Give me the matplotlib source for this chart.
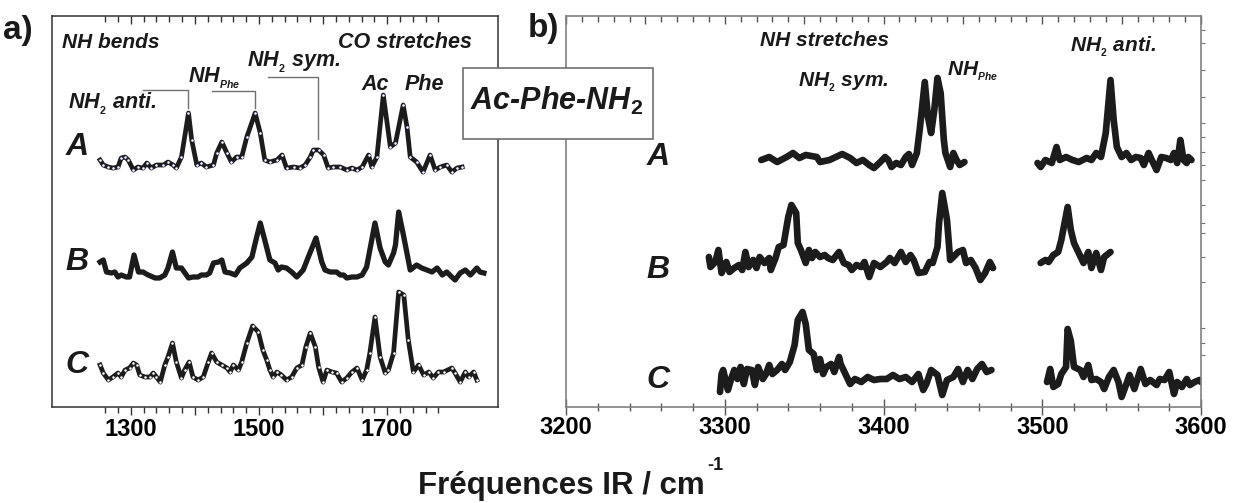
import matplotlib
matplotlib.use("Agg")
import matplotlib.pyplot as plt
from matplotlib.patches import Rectangle
from matplotlib.ticker import FixedLocator, MultipleLocator, NullFormatter

# fonts: narrow bold like the original figure (falls back to Liberation Sans)
FONT = ['Liberation Sans Narrow', 'Liberation Sans', 'DejaVu Sans']
plt.rcParams['font.family'] = FONT
plt.rcParams['mathtext.fontset'] = 'custom'
plt.rcParams['mathtext.rm'] = 'Liberation Sans:bold'
plt.rcParams['mathtext.it'] = 'Liberation Sans:italic:bold'
plt.rcParams['mathtext.bf'] = 'Liberation Sans:bold'
plt.rcParams['mathtext.default'] = 'it'

# ---- panel a) : 1200-1900 cm-1, spectra A, B, C (arbitrary intensity units)
a_wn_A = [1252, 1257, 1265, 1272, 1280, 1285, 1291, 1296, 1304, 1311,
          1319, 1325, 1332, 1340, 1351, 1358, 1366, 1371, 1379, 1390,
          1395, 1403, 1410, 1418, 1429, 1434, 1442, 1450, 1457, 1465,
          1473, 1481, 1494, 1502, 1509, 1517, 1528, 1536, 1543, 1554,
          1564, 1572, 1580, 1585, 1593, 1601, 1608, 1616, 1627, 1637,
          1645, 1653, 1661, 1671, 1676, 1684, 1694, 1705, 1713, 1725,
          1731, 1736, 1746, 1756, 1767, 1775, 1783, 1793, 1801, 1809, 1817]
a_int_A = [247, 242, 240, 239, 240, 249, 250, 247, 237, 240,
           239, 244, 239, 242, 242, 245, 242, 239, 250, 294,
           267, 242, 244, 240, 242, 254, 265, 254, 245, 250,
           250, 270, 294, 274, 247, 245, 247, 252, 239, 240,
           239, 242, 250, 257, 257, 252, 239, 240, 240, 237,
           239, 237, 240, 252, 240, 250, 312, 260, 264, 302,
           280, 250, 245, 235, 252, 237, 240, 242, 235, 239, 240]

a_wn_B = [1252, 1257, 1262, 1270, 1275, 1280, 1285, 1293, 1298, 1305,
          1312, 1319, 1327, 1338, 1345, 1353, 1358, 1365, 1371, 1379,
          1390, 1397, 1405, 1410, 1418, 1423, 1429, 1437, 1442, 1447,
          1455, 1463, 1470, 1481, 1489, 1496, 1502, 1509, 1517, 1525,
          1530, 1535, 1543, 1551, 1559, 1569, 1577, 1589, 1598, 1603,
          1611, 1621, 1627, 1632, 1637, 1645, 1653, 1661, 1668, 1673,
          1681, 1689, 1697, 1702, 1710, 1713, 1718, 1726, 1736, 1746,
          1754, 1762, 1770, 1778, 1786, 1793, 1801, 1806, 1814, 1822,
          1830, 1840, 1845, 1851]
a_int_B = [145, 147, 135, 134, 135, 130, 132, 130, 130, 152,
           135, 135, 132, 129, 129, 132, 139, 155, 139, 139,
           129, 130, 130, 132, 132, 134, 144, 145, 147, 135,
           134, 132, 139, 144, 150, 169, 184, 167, 147, 144,
           137, 140, 139, 135, 130, 137, 150, 169, 145, 137,
           135, 135, 132, 132, 129, 130, 130, 132, 140, 157,
           184, 159, 145, 142, 154, 162, 195, 170, 137, 142,
           139, 137, 135, 139, 132, 135, 130, 127, 134, 137,
           132, 139, 135, 134]

a_wn_C = [1252, 1257, 1265, 1272, 1280, 1285, 1291, 1298, 1304, 1309,
          1314, 1322, 1330, 1335, 1340, 1346, 1353, 1358, 1365, 1371,
          1379, 1384, 1391, 1397, 1405, 1413, 1421, 1426, 1434, 1442,
          1450, 1455, 1460, 1468, 1473, 1481, 1490, 1499, 1506, 1512,
          1517, 1522, 1528, 1535, 1543, 1551, 1559, 1567, 1573, 1580,
          1588, 1593, 1600, 1606, 1614, 1621, 1629, 1637, 1645, 1653,
          1661, 1668, 1673, 1681, 1689, 1697, 1702, 1710, 1718, 1726,
          1733, 1741, 1749, 1757, 1765, 1772, 1780, 1788, 1801, 1806,
          1814, 1822, 1827, 1835, 1840]
a_int_C = [42, 34, 27, 30, 34, 30, 37, 39, 44, 42,
           32, 30, 30, 34, 30, 25, 42, 50, 64, 45,
           29, 37, 45, 30, 27, 30, 45, 54, 45, 42,
           39, 35, 42, 37, 45, 64, 81, 75, 57, 47,
           37, 30, 35, 32, 27, 30, 39, 42, 60, 74,
           60, 40, 25, 37, 35, 34, 25, 29, 35, 39,
           27, 37, 54, 90, 50, 34, 37, 54, 115, 112,
           67, 35, 42, 32, 35, 29, 35, 35, 39, 34,
           25, 35, 30, 35, 27]

# ---- panel b) : 3200-3600 cm-1, each spectrum in two windows
b_wn_A1 = [3323, 3328, 3333, 3339, 3343, 3347, 3351, 3358, 3360, 3366,
           3370, 3374, 3379, 3383, 3387, 3391, 3394, 3398, 3401, 3403,
           3405, 3408, 3411, 3414, 3416, 3418, 3421, 3423, 3426, 3428,
           3430, 3432, 3434, 3436, 3438, 3439, 3442, 3444, 3446, 3448, 3451]
b_int_A1 = [247, 250, 245, 250, 254, 249, 252, 250, 245, 247,
            250, 253, 249, 244, 247, 242, 239, 245, 250, 247,
            240, 244, 242, 250, 253, 242, 254, 280, 325, 290,
            274, 297, 329, 314, 267, 254, 240, 254, 247, 242, 245]
b_wn_A2 = [3497, 3499, 3502, 3506, 3509, 3511, 3515, 3519, 3523, 3528,
           3531, 3534, 3537, 3540, 3543, 3545, 3547, 3550, 3553, 3556,
           3559, 3562, 3564, 3567, 3569, 3572, 3575, 3578, 3581, 3583,
           3585, 3587, 3589, 3591, 3592, 3594]
b_int_A2 = [244, 240, 247, 244, 260, 247, 250, 247, 245, 249,
            247, 254, 250, 274, 327, 287, 260, 250, 254, 247,
            250, 249, 242, 254, 247, 237, 250, 249, 247, 254,
            244, 267, 247, 244, 250, 247]

b_wn_B1 = [3290, 3291, 3294, 3296, 3298, 3301, 3303, 3306, 3309, 3311,
           3313, 3315, 3318, 3320, 3322, 3325, 3328, 3329, 3332, 3334,
           3337, 3340, 3342, 3345, 3346, 3348, 3351, 3353, 3355, 3357,
           3360, 3363, 3365, 3368, 3372, 3375, 3378, 3380, 3383, 3386,
           3388, 3391, 3394, 3398, 3402, 3404, 3407, 3411, 3414, 3417,
           3419, 3422, 3426, 3429, 3431, 3434, 3435, 3437, 3440, 3442,
           3444, 3447, 3450, 3452, 3455, 3458, 3461, 3464, 3467, 3469]
b_int_B1 = [150, 140, 145, 157, 134, 145, 135, 139, 142, 137,
            155, 140, 147, 139, 150, 144, 149, 137, 149, 160,
            162, 190, 202, 194, 164, 157, 144, 157, 149, 155,
            150, 152, 149, 147, 155, 144, 142, 137, 142, 140,
            145, 130, 144, 140, 145, 149, 144, 155, 145, 152,
            147, 134, 135, 145, 144, 160, 184, 214, 187, 147,
            150, 155, 157, 144, 147, 139, 127, 134, 145, 139]
b_wn_B2 = [3499, 3502, 3504, 3507, 3510, 3512, 3516, 3518, 3520, 3523,
           3526, 3529, 3531, 3534, 3537, 3539, 3543]
b_int_B2 = [144, 147, 145, 152, 155, 167, 200, 177, 164, 154,
            144, 155, 139, 154, 137, 150, 155]

b_wn_C1 = [3297, 3298, 3299, 3302, 3304, 3306, 3308, 3310, 3312, 3314,
           3317, 3319, 3321, 3324, 3326, 3328, 3330, 3333, 3336, 3338,
           3341, 3344, 3346, 3349, 3351, 3353, 3356, 3358, 3360, 3362,
           3364, 3367, 3369, 3372, 3373, 3376, 3379, 3382, 3386, 3390,
           3394, 3398, 3402, 3406, 3410, 3414, 3418, 3422, 3425, 3427,
           3430, 3434, 3437, 3440, 3444, 3447, 3450, 3453, 3456, 3459,
           3462, 3465, 3468]
b_int_C1 = [15, 33, 37, 17, 28, 37, 28, 40, 23, 38,
            37, 22, 40, 28, 33, 42, 33, 37, 43, 37,
            45, 62, 87, 95, 83, 57, 53, 37, 48, 33,
            40, 43, 35, 50, 43, 33, 23, 28, 25, 30,
            27, 28, 28, 32, 28, 30, 25, 33, 17, 23,
            37, 32, 12, 27, 30, 38, 25, 37, 28, 38,
            43, 35, 37]
b_wn_C2 = [3503, 3505, 3507, 3510, 3512, 3515, 3516, 3518, 3520, 3524,
           3526, 3529, 3531, 3534, 3537, 3539, 3542, 3545, 3548, 3550,
           3553, 3555, 3558, 3562, 3565, 3568, 3572, 3574, 3577, 3580,
           3583, 3585, 3588, 3591, 3593, 3596, 3599, 3600]
b_int_C2 = [25, 38, 20, 23, 33, 40, 78, 66, 40, 37,
            30, 42, 27, 28, 25, 18, 30, 37, 25, 10,
            23, 32, 18, 38, 23, 27, 22, 28, 27, 35,
            13, 25, 20, 28, 22, 25, 27, 25]

a_ticks = [1300, 1400, 1500, 1600, 1700]
a_ticklabels = ['1300', '', '1500', '', '1700']
b_ticks = [3200, 3300, 3400, 3500, 3600]

W, H = 1234, 503
INK = '#1c1c1c'


def fx(x):
    return x / W


def fy(y):
    return 1 - y / H


fig = plt.figure(figsize=(W / 100, H / 100), dpi=100)
ax1 = fig.add_axes([fx(52), fy(407), (498 - 52) / W, (407 - 16) / H])
ax2 = fig.add_axes([fx(566), fy(407), (1201 - 566) / W, (407 - 16) / H])

# panel a spectra
ax1.plot(a_wn_A, a_int_A, color=INK, lw=3.4, marker='o', ms=2.2,
         mfc='white', mec='#30305a', mew=0.4, solid_joinstyle='round')
ax1.plot(a_wn_B, a_int_B, color=INK, lw=3.8, solid_joinstyle='round')
ax1.plot(a_wn_C, a_int_C, color=INK, lw=3.4, marker='o', ms=2.2,
         mfc='white', mec='#333333', mew=0.4, solid_joinstyle='round')
ax1.set_xlim(1177, 1873)
ax1.set_ylim(0, 391)

# panel b spectra
for wn, yy in [(b_wn_A1, b_int_A1), (b_wn_A2, b_int_A2),
               (b_wn_B1, b_int_B1), (b_wn_B2, b_int_B2),
               (b_wn_C1, b_int_C1), (b_wn_C2, b_int_C2)]:
    ax2.plot(wn, yy, color=INK, lw=4.8, solid_joinstyle='round',
             solid_capstyle='round')
ax2.set_xlim(3200, 3600)
ax2.set_ylim(0, 391)

tick_font = dict(family=FONT, weight='bold', size=17)

# axes a ticks
for s in ax1.spines.values():
    s.set_color('#333333')
    s.set_linewidth(1.1)
ax1.set_yticks([])
a_minor = [v for v in range(1260, 1781, 20) if v % 100]
ax1.xaxis.set_major_locator(FixedLocator(a_ticks))
ax1.xaxis.set_minor_locator(FixedLocator(a_minor))
ax1.set_xticklabels(a_ticklabels, fontdict=tick_font)
ax1.tick_params(axis='x', which='major', direction='out', length=6, width=1,
                color='#333333', pad=2)
ax1.tick_params(axis='x', which='minor', direction='out', length=4, width=1,
                color='#333333')
top1 = ax1.secondary_xaxis('top')
top1.xaxis.set_major_locator(FixedLocator(a_ticks))
top1.xaxis.set_minor_locator(FixedLocator(a_minor))
top1.xaxis.set_major_formatter(NullFormatter())
top1.tick_params(which='major', direction='in', length=6, width=1, color='#333333')
top1.tick_params(which='minor', direction='in', length=4, width=1, color='#333333')
top1.spines['top'].set_visible(False)

# axes b ticks
for s in ax2.spines.values():
    s.set_color('#808080')
    s.set_linewidth(1.2)
ax2.xaxis.set_major_locator(FixedLocator(b_ticks))
ax2.xaxis.set_minor_locator(MultipleLocator(20))
ax2.set_xticklabels([str(t) for t in b_ticks], fontdict=tick_font)
ax2.tick_params(axis='x', which='major', direction='inout', length=11, width=1,
                color='#555555', pad=1)
ax2.tick_params(axis='x', which='minor', direction='inout', length=6, width=1,
                color='#555555')
top2 = ax2.secondary_xaxis('top')
top2.xaxis.set_major_locator(MultipleLocator(50))
top2.xaxis.set_minor_locator(MultipleLocator(10))
top2.xaxis.set_major_formatter(NullFormatter())
top2.tick_params(which='major', direction='in', length=6, width=1, color='#555555')
top2.tick_params(which='minor', direction='in', length=4, width=1, color='#555555')
top2.spines['top'].set_visible(False)
ax2.yaxis.set_ticks_position('right')
ax2.yaxis.set_major_locator(FixedLocator([]))
ax2.yaxis.set_minor_locator(FixedLocator([377, 364, 337, 310, 284, 270, 255, 242,
                                          227, 202, 184, 174, 150, 125, 79, 64, 52]))
ax2.tick_params(axis='y', which='minor', direction='out', length=3, width=0.8,
                color='#777777')

# annotations (pixel positions of the original figure)
lab = dict(family=FONT, weight='bold', style='italic', color='#1a1a1a')


def ftext(x, y, s, size, ha='left', va='center', **kw):
    d = dict(lab)
    d.update(kw)
    return fig.text(fx(x), fy(y), s, fontsize=size, ha=ha, va=va, **d)


fig.text(fx(3), fy(30), 'a)', fontsize=24, weight='bold', family=FONT,
         ha='left', va='center', color='#1a1a1a')
fig.text(fx(528), fy(28), 'b)', fontsize=24, weight='bold', family=FONT,
         ha='left', va='center', color='#1a1a1a')

ftext(62, 42, 'NH bends', 15)
ftext(338, 43, 'CO stretches', 15.5)
ftext(247, 62, r'NH$_{_2}$ sym.', 15.5)
ftext(188, 78, r'NH$_{_{Phe}}$', 15.5)
ftext(361, 84, 'Ac', 15.5)
ftext(405, 84, 'Phe', 15.5)
ftext(68, 104, r'NH$_{_2}$ anti.', 15.5)
for ch, y in [('A', 147), ('B', 262), ('C', 365)]:
    ftext(77, y, ch, 23, ha='center')

ftext(760, 40, 'NH stretches', 15)
ftext(798, 82, r'NH$_{_2}$ sym.', 15)
ftext(947, 71, r'NH$_{_{Phe}}$', 15)
ftext(1070, 47, r'NH$_{_2}$ anti.', 15)
for ch, y in [('A', 157), ('B', 270), ('C', 380)]:
    ftext(658, y, ch, 23, ha='center')

# bracket lines in panel a
ax1.plot([1319, 1389, 1389], [317, 317, 299], color='#707070', lw=1)
ax1.plot([1427, 1494, 1494], [316, 316, 299], color='#707070', lw=1)
ax1.plot([1514, 1592, 1592], [330, 330, 268], color='#707070', lw=1)

# compound box
box = Rectangle((fx(463), fy(139)), (653 - 463) / W, (139 - 68) / H,
                transform=fig.transFigure, facecolor='white',
                edgecolor='#707070', lw=1.2, zorder=10)
fig.add_artist(box)
t = ftext(557, 101, r'Ac-Phe-NH$_2$', 22, ha='center')
t.set_zorder(11)

# axis title
fig.text(fx(705), fy(494), 'Fréquences IR / cm', fontsize=22.5,
         weight='bold', family=FONT, ha='right', va='baseline', color='#1a1a1a')
fig.text(fx(707), fy(465), '-1', fontsize=13,
         weight='bold', family=FONT, ha='left', va='center', color='#1a1a1a')

fig.savefig('out.png', dpi=100)
